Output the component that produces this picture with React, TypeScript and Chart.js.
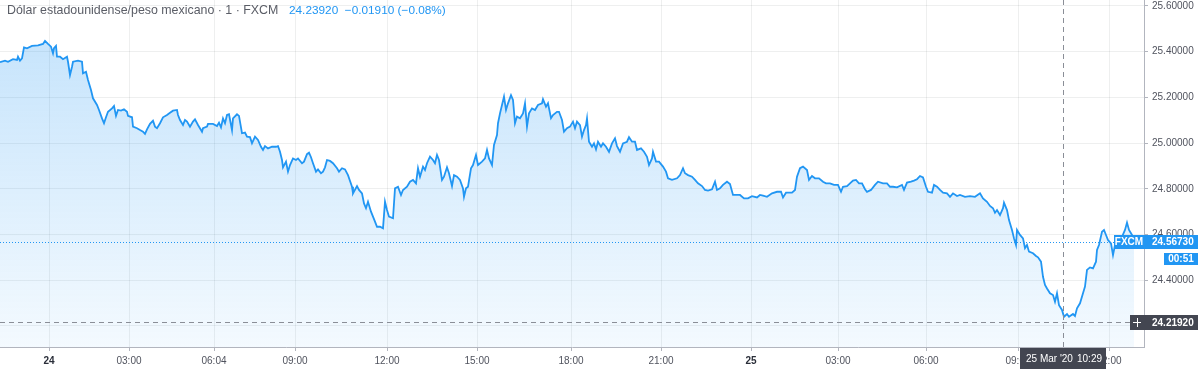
import React, { useEffect, useRef } from 'react';
import { Chart, registerables } from 'chart.js';

Chart.register(...registerables);

const TITLE = 'Dólar estadounidense/peso mexicano · 1 · FXCM';
const QUOTE = '24.23920  \u22120.01910 (\u22120.08%)';

// bar index (1-minute bars, gaps collapsed) and close prices
const bars: number[] = [
  0, 10, 16, 26, 34, 36, 40, 44, 48, 54, 64, 76, 86, 90, 96, 102, 106, 108, 112, 114, 120, 126, 134, 136, 140, 144, 146, 156, 164, 166, 172, 176, 182, 186, 194, 198, 204, 208, 212, 216, 224, 228, 232, 236, 242, 248, 254, 256, 264, 266, 274, 280, 286, 290, 294, 300, 306, 310, 314, 320, 326, 334, 340, 346, 354, 356, 360, 366, 370, 374, 380, 386,
  390, 396, 404, 406, 414, 416, 426, 434, 438, 442, 446, 450, 454, 458, 464, 466, 474, 478, 484, 490, 494, 500, 504, 510, 516, 522, 526, 530, 536, 544, 552, 556, 560, 564, 566, 572, 576, 580, 586, 592, 596, 604, 608, 614, 618, 622, 626, 632, 636, 642, 646, 650, 654, 660, 666, 674, 678, 684, 690, 696, 704, 706, 714, 718, 724, 728, 732, 736, 742, 746, 750, 754, 760, 766,
  770, 774, 778, 786, 790, 796, 802, 806, 814, 820, 826, 832, 836, 840, 846, 850, 854, 860, 866, 870, 874, 878, 884, 888, 894, 898, 904, 908, 914, 920, 926, 928, 932, 936, 942, 946, 952, 956, 964, 970, 974, 978, 984, 988, 994, 996, 1000, 1004, 1008, 1012, 1016, 1022, 1026, 1030, 1034, 1040, 1046, 1050, 1054, 1058, 1064, 1070, 1076, 1084, 1086, 1092, 1096, 1102, 1106, 1114, 1118, 1124, 1128, 1134, 1140,
  1146, 1150, 1154, 1160, 1164, 1168, 1172, 1174, 1178, 1184, 1188, 1192, 1196, 1202, 1206, 1212, 1218, 1224, 1230, 1234, 1240, 1246, 1254, 1258, 1264, 1270, 1274, 1282, 1288, 1294, 1298, 1304, 1306, 1312, 1318, 1326, 1332, 1336, 1344, 1354, 1360, 1366, 1370, 1376, 1384, 1390, 1396, 1404, 1410, 1416, 1424, 1430, 1434, 1440, 1446, 1454, 1460, 1466, 1472, 1480, 1488, 1496, 1504, 1514, 1520,
  1526, 1534, 1544, 1554, 1562, 1566, 1572, 1584, 1590, 1594, 1600, 1606, 1614, 1618, 1624, 1630, 1638, 1646, 1652, 1660, 1668, 1676, 1682, 1686, 1694, 1700, 1706, 1712, 1718, 1724, 1730, 1734, 1742, 1750, 1756, 1766, 1774, 1780, 1786, 1794, 1804, 1808, 1814, 1822, 1828, 1834, 1840, 1846, 1852, 1856, 1864, 1868, 1874, 1880, 1886, 1894, 1900,
  1906, 1914, 1920, 1930, 1940, 1950, 1960, 1966, 1974, 1980, 1986, 1990, 1994, 2000, 2006, 2008, 2014, 2018, 2024, 2028, 2032, 2034, 2040, 2046, 2050, 2054, 2058, 2066, 2072, 2076, 2082, 2086, 2090, 2094, 2100, 2106, 2110, 2114, 2118, 2124, 2128, 2134, 2138, 2146, 2150, 2154, 2160, 2166, 2170, 2174, 2180, 2186, 2192, 2194, 2198, 2204, 2208, 2212, 2216, 2222, 2226, 2230, 2236, 2244, 2250, 2254, 2258, 2264, 2268,
];

const prices: number[] = [
  25.354, 25.361, 25.356, 25.367, 25.364, 25.378, 25.361, 25.371, 25.419, 25.415, 25.425, 25.428, 25.434, 25.447, 25.434, 25.422, 25.393, 25.415, 25.425, 25.378, 25.378, 25.367, 25.378, 25.356, 25.298, 25.334, 25.356, 25.361, 25.356, 25.305, 25.312, 25.276, 25.232, 25.196, 25.167, 25.145, 25.108, 25.087, 25.113, 25.137, 25.152, 25.162, 25.119, 25.145, 25.142, 25.148, 25.137, 25.119, 25.113, 25.072, 25.065, 25.057, 25.050, 25.040, 25.060, 25.084, 25.098, 25.072, 25.065, 25.087, 25.113, 25.123, 25.133, 25.142, 25.145, 25.123, 25.101, 25.079, 25.101, 25.094, 25.072, 25.094,
  25.104, 25.079, 25.050, 25.065, 25.072, 25.084, 25.084, 25.075, 25.089, 25.069, 25.108, 25.087, 25.123, 25.126, 25.057, 25.108, 25.126, 25.119, 25.043, 25.046, 25.028, 25.026, 24.999, 25.028, 25.014, 24.984, 24.970, 24.987, 24.977, 24.984, 24.984, 24.987, 24.962, 24.926, 24.894, 24.919, 24.875, 24.904, 24.933, 24.926, 24.933, 24.912, 24.919, 24.952, 24.958, 24.938, 24.912, 24.875, 24.885, 24.868, 24.875, 24.894, 24.926, 24.922, 24.912, 24.890, 24.875, 24.890, 24.885, 24.860, 24.809, 24.780, 24.812, 24.795, 24.780, 24.736, 24.715, 24.743, 24.700, 24.678, 24.656, 24.634, 24.634, 24.627,
  24.743, 24.707, 24.678, 24.671, 24.802, 24.809, 24.773, 24.795, 24.809, 24.831, 24.839, 24.824, 24.890, 24.853, 24.897, 24.882, 24.912, 24.941, 24.926, 24.912, 24.948, 24.926, 24.839, 24.853, 24.894, 24.868, 24.812, 24.860, 24.853, 24.839, 24.802, 24.765, 24.802, 24.809, 24.890, 24.904, 24.948, 24.904, 24.919, 24.933, 24.970, 24.933, 24.904, 24.992, 25.035, 25.087, 25.130, 25.167, 25.203, 25.145, 25.174, 25.210, 25.189, 25.087, 25.116, 25.109, 25.130, 25.174, 25.072, 25.130, 25.152, 25.145, 25.167, 25.174, 25.192, 25.159, 25.174, 25.109, 25.123, 25.137, 25.137, 25.101, 25.050, 25.065, 25.072,
  25.094, 25.065, 25.094, 25.079, 25.028, 25.057, 25.079, 25.108, 25.006, 24.984, 24.999, 24.973, 25.006, 24.984, 24.999, 24.984, 24.962, 24.999, 25.021, 24.987, 24.962, 24.999, 25.006, 25.026, 25.006, 25.006, 24.970, 24.977, 24.962, 24.940, 24.904, 24.933, 24.962, 24.919, 24.919, 24.897, 24.875, 24.846, 24.839, 24.846, 24.860, 24.890, 24.868, 24.860, 24.853, 24.839, 24.824, 24.812, 24.795, 24.792, 24.798, 24.831, 24.795, 24.802, 24.817, 24.831, 24.821, 24.773, 24.773, 24.773, 24.758, 24.758, 24.768, 24.762, 24.773,
  24.770, 24.765, 24.780, 24.787, 24.787, 24.762, 24.783, 24.783, 24.795, 24.853, 24.890, 24.897, 24.882, 24.839, 24.856, 24.846, 24.846, 24.831, 24.824, 24.824, 24.817, 24.817, 24.787, 24.809, 24.812, 24.824, 24.836, 24.839, 24.824, 24.824, 24.798, 24.787, 24.795, 24.817, 24.831, 24.824, 24.824, 24.809, 24.809, 24.806, 24.817, 24.795, 24.827, 24.831, 24.836, 24.842, 24.856, 24.850, 24.809, 24.787, 24.783, 24.817, 24.809, 24.795, 24.783, 24.780, 24.765,
  24.780, 24.768, 24.773, 24.765, 24.768, 24.765, 24.780, 24.758, 24.743, 24.725, 24.715, 24.695, 24.707, 24.685, 24.715, 24.739, 24.707, 24.663, 24.620, 24.583, 24.554, 24.620, 24.598, 24.583, 24.540, 24.554, 24.525, 24.518, 24.506, 24.500, 24.481, 24.415, 24.379, 24.364, 24.343, 24.335, 24.306, 24.343, 24.291, 24.270, 24.240, 24.252, 24.240, 24.252, 24.243, 24.277, 24.299, 24.343, 24.372, 24.445, 24.456, 24.452, 24.481, 24.532, 24.554, 24.612, 24.620, 24.598, 24.576, 24.561, 24.510, 24.554, 24.568, 24.590, 24.620, 24.652, 24.620, 24.598, 24.567,
];

const xTickBars: number[] = [98, 258, 428, 590, 774, 954, 1142, 1322, 1502, 1676, 1852, 2036, 2218];
const xTickLabels: string[] = ['24', '03:00', '06:04', '09:00', '12:00', '15:00', '18:00', '21:00', '25', '03:00', '06:00', '09:00', '12:00'];
const dayLabels: string[] = ['24', '25'];
const yTicks: number[] = [24.2, 24.4, 24.6, 24.8, 25.0, 25.2, 25.4, 25.6];

const X_MIN = 0;
const X_MAX = 2288;
const Y_MIN = 24.1077;
const Y_MAX = 25.6262;

const LAST_PRICE = 24.5673;
const LAST_LABEL = '24.56730';
const SYMBOL = 'FXCM';
const COUNTDOWN = '00:51';
const CROSS_BAR = 2126;
const CROSS_PRICE = 24.2192;
const CROSS_LABEL = '24.21920';
const CROSS_DATE = "25 Mar '20";
const CROSS_TIME = '10:29';

const BLUE = '#2196f3';
const DARK = '#434651';
const AXIS_TEXT = '#50535e';
const FONT = '"Liberation Sans", Arial, sans-serif';

const overlayPlugin = {
  id: 'overlay',
  afterDatasetsDraw(chart: any) {
    const { ctx, chartArea: a, scales } = chart;
    const xs = scales.x;
    const ys = scales.y;
    ctx.save();
    const py = Math.round(ys.getPixelForValue(LAST_PRICE)) + 0.5;
    ctx.strokeStyle = BLUE;
    ctx.lineWidth = 1;
    ctx.setLineDash([1, 2]);
    ctx.beginPath();
    ctx.moveTo(a.left, py);
    ctx.lineTo(a.right, py);
    ctx.stroke();

    const cx = Math.round(xs.getPixelForValue(CROSS_BAR)) + 0.5;
    const cy = Math.round(ys.getPixelForValue(CROSS_PRICE)) + 0.5;
    ctx.strokeStyle = '#8a8e97';
    ctx.setLineDash([5, 4]);
    ctx.beginPath();
    ctx.moveTo(cx, a.top);
    ctx.lineTo(cx, a.bottom);
    ctx.moveTo(a.left, cy);
    ctx.lineTo(a.right, cy);
    ctx.stroke();
    ctx.restore();
  },
  afterDraw(chart: any) {
    const { ctx, chartArea: a, scales } = chart;
    const xs = scales.x;
    const ys = scales.y;
    ctx.save();

    // y axis labels
    ctx.font = `10px ${FONT}`;
    ctx.fillStyle = AXIS_TEXT;
    ctx.textAlign = 'left';
    ctx.textBaseline = 'middle';
    yTicks.forEach((v) => {
      ctx.fillText(v.toFixed(5), a.right + 8, ys.getPixelForValue(v));
    });

    // x axis labels
    ctx.textAlign = 'center';
    xTickBars.forEach((b, i) => {
      const lab = xTickLabels[i];
      const isDay = dayLabels.includes(lab);
      ctx.font = isDay ? `bold 10px ${FONT}` : `10px ${FONT}`;
      ctx.fillStyle = isDay ? '#2a2e39' : AXIS_TEXT;
      ctx.fillText(lab, xs.getPixelForValue(b), a.bottom + 14);
    });

    // last price labels
    const py = Math.round(ys.getPixelForValue(LAST_PRICE));
    ctx.fillStyle = BLUE;
    ctx.fillRect(a.right - 30, py - 7, 30, 14);
    ctx.fillRect(a.right, py - 7, 54, 14);
    ctx.fillRect(a.right + 20, py + 11, 34, 12);
    ctx.fillStyle = '#ffffff';
    ctx.font = `bold 10px ${FONT}`;
    ctx.textAlign = 'center';
    ctx.fillText(SYMBOL, a.right - 15, py + 0.5);
    ctx.textAlign = 'left';
    ctx.fillText(LAST_LABEL, a.right + 8, py + 0.5);
    ctx.textAlign = 'center';
    ctx.fillText(COUNTDOWN, a.right + 37, py + 17.5);

    // crosshair price label
    const cy = Math.round(ys.getPixelForValue(CROSS_PRICE));
    ctx.fillStyle = DARK;
    ctx.fillRect(a.right - 14, cy - 7, 68, 15);
    ctx.strokeStyle = '#ffffff';
    ctx.lineWidth = 1;
    ctx.beginPath();
    ctx.moveTo(a.right - 11, cy + 0.5);
    ctx.lineTo(a.right - 3, cy + 0.5);
    ctx.moveTo(a.right - 6.5, cy - 4);
    ctx.lineTo(a.right - 6.5, cy + 5);
    ctx.stroke();
    ctx.fillStyle = '#ffffff';
    ctx.textAlign = 'left';
    ctx.fillText(CROSS_LABEL, a.right + 8, cy + 1);

    // crosshair time label
    const cx = Math.round(xs.getPixelForValue(CROSS_BAR));
    ctx.fillStyle = DARK;
    ctx.fillRect(cx - 43, a.bottom + 1, 86, 21);
    ctx.fillStyle = '#ffffff';
    ctx.font = `10px ${FONT}`;
    ctx.textAlign = 'left';
    ctx.fillText(CROSS_DATE, cx - 37, a.bottom + 12);
    ctx.textAlign = 'right';
    ctx.fillText(CROSS_TIME, cx + 39, a.bottom + 12);

    // header
    ctx.textAlign = 'left';
    ctx.textBaseline = 'alphabetic';
    ctx.font = `12.4px ${FONT}`;
    ctx.fillStyle = '#5a5d66';
    ctx.fillText(TITLE, 7, 14);
    ctx.font = `11.8px ${FONT}`;
    ctx.fillStyle = BLUE;
    ctx.fillText(QUOTE, 289, 14);

    ctx.restore();
  },
};

export default function App() {
  const ref = useRef<HTMLCanvasElement | null>(null);

  useEffect(() => {
    if (!ref.current) return;
    const data = bars.map((b, i) => ({ x: b, y: prices[i] }));
    const chart = new Chart(ref.current, {
      type: 'line',
      data: {
        datasets: [
          {
            data,
            borderColor: BLUE,
            borderWidth: 1.8,
            pointRadius: 0,
            tension: 0,
            fill: 'start',
            backgroundColor: (c: any) => {
              const area = c.chart.chartArea;
              if (!area) return 'rgba(33,150,243,0.15)';
              const g = c.chart.ctx.createLinearGradient(0, area.top, 0, area.bottom);
              g.addColorStop(0, 'rgba(33,150,243,0.28)');
              g.addColorStop(1, 'rgba(33,150,243,0.05)');
              return g;
            },
          },
        ],
      },
      options: {
        animation: false,
        responsive: false,
        devicePixelRatio: 1,
        layout: { padding: 0 },
        plugins: { legend: { display: false }, tooltip: { enabled: false } },
        scales: {
          x: {
            type: 'linear',
            position: 'bottom',
            min: X_MIN,
            max: X_MAX,
            afterBuildTicks: (s: any) => {
              s.ticks = xTickBars.map((v) => ({ value: v }));
            },
            afterFit: (s: any) => {
              s.height = 25;
            },
            ticks: { display: false },
            grid: { color: 'rgba(42,46,57,0.08)', tickColor: '#b2b5be', drawTicks: true, tickLength: 4 },
            border: { display: true, color: '#b2b5be' },
          },
          y: {
            type: 'linear',
            position: 'right',
            min: Y_MIN,
            max: Y_MAX,
            afterBuildTicks: (s: any) => {
              s.ticks = yTicks.map((v) => ({ value: v }));
            },
            afterFit: (s: any) => {
              s.width = 56;
            },
            ticks: { display: false },
            grid: { color: 'rgba(42,46,57,0.08)', tickColor: '#b2b5be', drawTicks: true, tickLength: 4 },
            border: { display: true, color: '#b2b5be' },
          },
        },
      },
      plugins: [overlayPlugin],
    } as any);
    return () => chart.destroy();
  }, []);

  return (
    <div style={{ position: 'absolute', left: 0, top: 0, width: 1200, height: 372, background: '#ffffff' }}>
      <canvas ref={ref} width={1200} height={372} style={{ display: 'block' }} />
    </div>
  );
}
